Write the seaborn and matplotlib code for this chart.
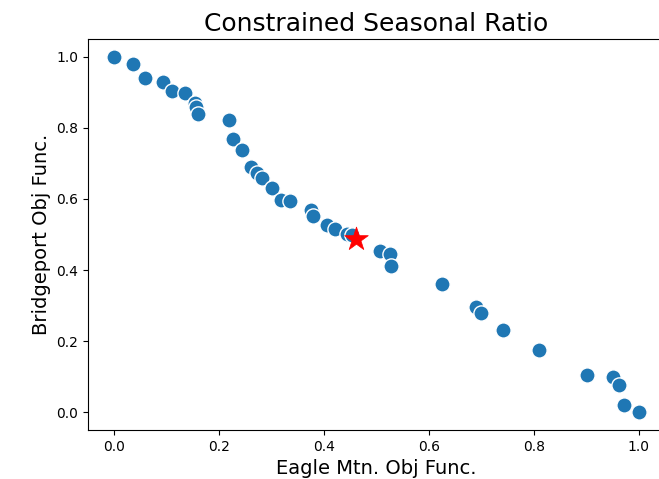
import matplotlib
matplotlib.use("Agg")
import matplotlib.pyplot as plt
import seaborn as sns
import pandas as pd

eagle = [0.000, 0.036, 0.058, 0.093, 0.111, 0.135, 0.154, 0.156, 0.159, 0.218,
         0.227, 0.244, 0.261, 0.272, 0.282, 0.300, 0.318, 0.335, 0.376, 0.378,
         0.405, 0.420, 0.443, 0.453, 0.507, 0.526, 0.527, 0.624, 0.690, 0.699,
         0.741, 0.809, 0.902, 0.951, 0.963, 0.971, 1.000]
bridgeport = [1.000, 0.980, 0.939, 0.930, 0.903, 0.898, 0.871, 0.858, 0.839, 0.822,
              0.768, 0.739, 0.689, 0.673, 0.660, 0.631, 0.598, 0.594, 0.568, 0.553,
              0.528, 0.515, 0.502, 0.499, 0.453, 0.445, 0.412, 0.360, 0.295, 0.278,
              0.230, 0.174, 0.106, 0.099, 0.078, 0.021, 0.000]
star_x = [0.461]
star_y = [0.488]

df = pd.DataFrame({"Eagle": eagle, "Bridgeport": bridgeport})
star = pd.DataFrame({"Eagle": star_x, "Bridgeport": star_y})

W, H = 659, 479
fig = plt.figure(figsize=(W / 100, H / 100), dpi=100)
ax = fig.add_axes([88 / W, (H - 430) / H, (665 - 88) / W, (430 - 39) / H])

sns.scatterplot(data=df, x="Eagle", y="Bridgeport", s=120, color="#1f77b4",
                edgecolor="white", linewidth=1, ax=ax, zorder=2)
sns.scatterplot(data=star, x="Eagle", y="Bridgeport", s=320, marker="*",
                color="red", edgecolor="red", linewidth=0.5, ax=ax, zorder=3)

ax.set_xlim(-0.05, 1.05)
ax.set_ylim(-0.05, 1.05)
ax.set_xticks([0.0, 0.2, 0.4, 0.6, 0.8, 1.0])
ax.set_yticks([0.0, 0.2, 0.4, 0.6, 0.8, 1.0])
ax.set_title("Constrained Seasonal Ratio", fontsize=18)
ax.set_xlabel("Eagle Mtn. Obj Func.", fontsize=14)
ax.set_ylabel("Bridgeport Obj Func.", fontsize=14)

fig.savefig("out.png", dpi=100)
